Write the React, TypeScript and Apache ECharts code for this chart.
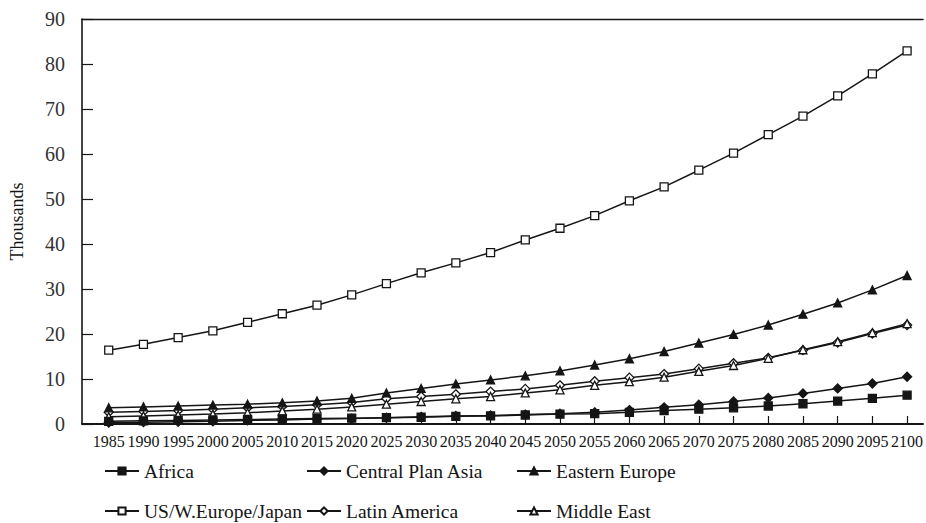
import { useEffect, useRef } from "react";
import * as echarts from "echarts";

// Projection years shown on the horizontal axis
const years = [
  1985, 1990, 1995, 2000, 2005, 2010, 2015, 2020, 2025, 2030, 2035, 2040,
  2045, 2050, 2055, 2060, 2065, 2070, 2075, 2080, 2085, 2090, 2095, 2100,
];

// Values in thousands, one per year
const africa = [
  0.6, 0.7, 0.8, 0.9, 1.0, 1.1, 1.2, 1.3, 1.4, 1.5, 1.7, 1.8,
  2.0, 2.2, 2.3, 2.6, 3.0, 3.3, 3.6, 4.0, 4.5, 5.1, 5.7, 6.4,
];
const centralPlanAsia = [
  0.3, 0.4, 0.5, 0.6, 0.8, 0.9, 1.1, 1.2, 1.4, 1.6, 1.8, 1.9,
  2.1, 2.3, 2.6, 3.1, 3.7, 4.3, 5.0, 5.8, 6.8, 7.9, 9.0, 10.5,
];
const easternEurope = [
  3.6, 3.8, 4.0, 4.2, 4.4, 4.7, 5.1, 5.7, 6.9, 7.9, 8.9, 9.8,
  10.7, 11.8, 13.1, 14.5, 16.1, 18.0, 19.9, 22.0, 24.4, 26.9, 29.8, 33.0,
];
const usEuropeJapan = [
  16.4, 17.7, 19.2, 20.7, 22.6, 24.5, 26.4, 28.7, 31.2, 33.6, 35.8, 38.1,
  40.9, 43.5, 46.3, 49.6, 52.7, 56.4, 60.2, 64.3, 68.4, 72.9, 77.8, 82.9,
];
const latinAmerica = [
  2.6, 2.8, 3.0, 3.3, 3.6, 3.9, 4.3, 4.8, 5.6, 6.1, 6.6, 7.2,
  7.8, 8.6, 9.5, 10.3, 11.1, 12.3, 13.5, 14.7, 16.4, 18.1, 20.1, 22.0,
];
const middleEast = [
  1.6, 1.8, 2.0, 2.2, 2.5, 2.9, 3.3, 3.8, 4.4, 5.0, 5.6, 6.1,
  6.9, 7.6, 8.6, 9.4, 10.4, 11.7, 13.0, 14.6, 16.5, 18.3, 20.3, 22.3,
];

const INK = "#151515";
const FONT = '"Liberation Serif", "Times New Roman", serif';

type SeriesDef = {
  name: string;
  values: number[];
  symbol: string;
  filled: boolean;
};

const seriesDefs: SeriesDef[] = [
  { name: "Africa", values: africa, symbol: "rect", filled: true },
  { name: "Central Plan Asia", values: centralPlanAsia, symbol: "diamond", filled: true },
  { name: "Eastern Europe", values: easternEurope, symbol: "triangle", filled: true },
  { name: "US/W.Europe/Japan", values: usEuropeJapan, symbol: "rect", filled: false },
  { name: "Latin America", values: latinAmerica, symbol: "diamond", filled: false },
  { name: "Middle East", values: middleEast, symbol: "triangle", filled: false },
];

// Legend slots: two rows of three entries
const LEGEND_ICON_W = 34;
const legendSlots = [
  { left: 104, top: 461 },
  { left: 306, top: 461 },
  { left: 516, top: 461 },
  { left: 104, top: 501 },
  { left: 306, top: 501 },
  { left: 516, top: 501 },
];

export default function App() {
  const ref = useRef<HTMLDivElement>(null);

  useEffect(() => {
    if (!ref.current) return;
    const chart = echarts.init(ref.current, null, { renderer: "svg" });

    const series = seriesDefs.map((d) => ({
      name: d.name,
      type: "line",
      data: years.map((y, i) => [y, d.values[i]]),
      symbol: d.symbol,
      symbolSize: d.symbol === "diamond" ? 9 : 8,
      showSymbol: true,
      lineStyle: { color: INK, width: 1.5 },
      itemStyle: {
        color: d.filled ? INK : "#ffffff",
        borderColor: INK,
        borderWidth: 1.3,
      },
      emphasis: { disabled: true },
      z: d.filled ? 3 : 2,
    }));

    const legends = seriesDefs.map((d, i) => ({
      data: [d.name],
      left: legendSlots[i].left,
      top: legendSlots[i].top,
      padding: 0,
      orient: "horizontal",
      itemWidth: LEGEND_ICON_W,
      itemHeight: 9,
      selectedMode: false,
      textStyle: {
        fontFamily: FONT,
        fontSize: 19.5,
        color: INK,
      },
    }));

    chart.setOption({
      animation: false,
      backgroundColor: "#ffffff",
      textStyle: { fontFamily: FONT },
      grid: { left: 77, right: 0, top: 19, bottom: 99, containLabel: false },
      legend: legends,
      xAxis: [
        {
          type: "value",
          min: 1981.15,
          max: 2102.3,
          axisLine: { show: true, lineStyle: { color: INK, width: 1.8 } },
          axisTick: {
            show: true,
            inside: true,
            length: 8,
            customValues: years,
            lineStyle: { color: INK, width: 1.2 },
          },
          axisLabel: {
            customValues: years,
            formatter: (v: number) => String(v),
            fontFamily: FONT,
            fontSize: 16,
            color: INK,
            margin: 9,
          },
          splitLine: { show: false },
        },
        {
          type: "value",
          position: "top",
          min: 1981.15,
          max: 2102.3,
          axisLine: { show: true, lineStyle: { color: INK, width: 1.4 } },
          axisTick: { show: false },
          axisLabel: { show: false },
          splitLine: { show: false },
        },
      ],
      yAxis: {
        type: "value",
        min: 0,
        max: 90,
        interval: 10,
        name: "Thousands",
        nameLocation: "middle",
        nameRotate: 90,
        nameGap: 56,
        nameTextStyle: { fontFamily: FONT, fontSize: 18, color: INK },
        axisLine: { show: true, lineStyle: { color: INK, width: 1.6 } },
        axisTick: {
          show: true,
          inside: true,
          length: 11,
          lineStyle: { color: INK, width: 1.2 },
        },
        axisLabel: {
          fontFamily: FONT,
          fontSize: 20,
          color: "#333",
          margin: 17,
        },
        splitLine: { show: false },
      },
      series,
    });

    return () => chart.dispose();
  }, []);

  return (
    <div
      ref={ref}
      style={{
        position: "absolute",
        left: 0,
        top: 0,
        width: 926,
        height: 523,
        background: "#ffffff",
      }}
    />
  );
}
